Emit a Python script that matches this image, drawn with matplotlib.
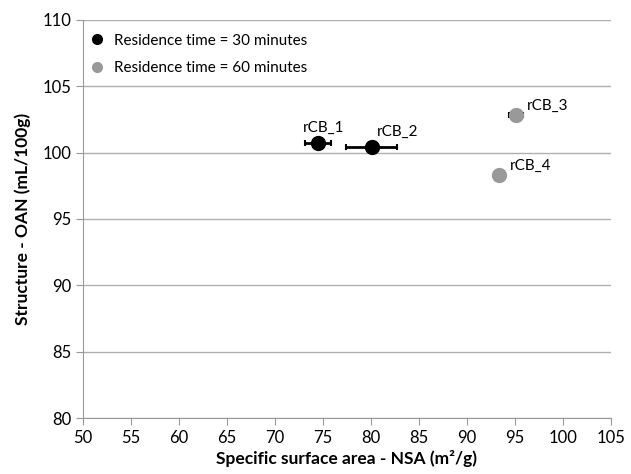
import matplotlib.pyplot as plt
from matplotlib.lines import Line2D

plt.rcParams['font.family'] = ['Lato', 'DejaVu Sans']

labels = ["rCB_1", "rCB_2", "rCB_3", "rCB_4"]
nsa = [74.5, 80.1, 95.1, 93.3]
oan = [100.7, 100.4, 102.8, 98.3]
nsa_err = [1.35, 2.65, 0.7, 0.0]
group = [30, 30, 60, 60]

colors = {30: "black", 60: "#999999"}

fig = plt.figure(figsize=(6.31, 4.74), dpi=100)
ax = fig.add_axes([0.1315, 0.118, 0.8365, 0.84])

for t in (30, 60):
    idx = [i for i in range(len(labels)) if group[i] == t]
    xs = [nsa[i] for i in idx]
    ys = [oan[i] for i in idx]
    es = [nsa_err[i] for i in idx]
    ax.errorbar(xs, ys, xerr=es, fmt="o", color=colors[t], ecolor="black",
                markersize=10, elinewidth=2, capsize=2.5, capthick=1.5, zorder=3)

# label offsets in points (left/center anchor, baseline)
offsets = {"rCB_1": (4, 8.5, "center"), "rCB_2": (3.5, 8, "left"),
           "rCB_3": (8, 4, "left"), "rCB_4": (8, 4, "left")}
for lab, x, y in zip(labels, nsa, oan):
    dx, dy, ha = offsets[lab]
    ax.annotate(lab, (x, y), xytext=(dx, dy), textcoords="offset points",
                fontsize=11, ha=ha, va="baseline")

ax.set_xlim(50, 105)
ax.set_ylim(80, 110)
ax.set_xticks(range(50, 106, 5))
ax.set_yticks(range(80, 111, 5))
ax.tick_params(labelsize=12, color="#999999", length=5)
ax.yaxis.grid(True, color="#b0b0b0", linewidth=1)
ax.set_axisbelow(True)
for s in ("top", "right"):
    ax.spines[s].set_visible(False)
for s in ("left", "bottom"):
    ax.spines[s].set_color("#999999")

ax.set_xlabel("Specific surface area - NSA (m²/g)", fontsize=12.5,
              fontweight="bold", labelpad=3)
ax.set_ylabel("Structure - OAN (mL/100g)", fontsize=12.5, fontweight="bold", labelpad=8)

handles = [Line2D([], [], marker="o", linestyle="none", color=colors[t], markersize=7)
           for t in (30, 60)]
ax.legend(handles, [f"Residence time = {t} minutes" for t in (30, 60)],
          loc="upper left", bbox_to_anchor=(0, 0.981), frameon=False, fontsize=11,
          handlelength=1, handletextpad=0.6, labelspacing=0.9, borderaxespad=0)

fig.savefig("out.png", dpi=100)
